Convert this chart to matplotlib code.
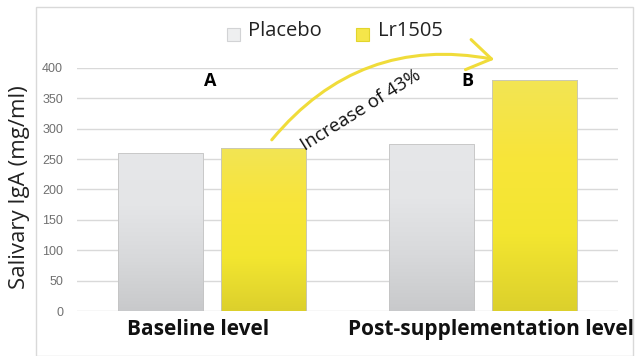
import numpy as np
import matplotlib.pyplot as plt
from matplotlib.patches import Rectangle, FancyArrowPatch
from matplotlib.colors import LinearSegmentedColormap
from matplotlib.transforms import ScaledTranslation

categories = ["Baseline level", "Post-supplementation level"]
series_names = ["Placebo", "Lr1505"]
placebo = [260, 275]
lr1505 = [268, 380]
yticks = [0, 50, 100, 150, 200, 250, 300, 350, 400]

plt.rcParams['font.family'] = ['Open Sans', 'DejaVu Sans']

fig = plt.figure(figsize=(6.38, 3.56), dpi=100)
ax = fig.add_axes([0.1207, 0.1264, 0.8480, 0.6826])

# cadre exterieur
fig.patches.append(Rectangle((36 / 638, 0.0), 597 / 638, 1 - 7 / 356,
                             transform=fig.transFigure, fill=False,
                             edgecolor='#d9d9d9', linewidth=1.0))

gray_cmap = LinearSegmentedColormap.from_list('g', ['#c8c9cb', '#d8d9db', '#e4e5e7', '#e6e7e9'])
yel_cmap = LinearSegmentedColormap.from_list('y', ['#dcd02c', '#f3e630', '#f8e53a', '#f2e454'])

x = np.arange(len(categories))
w = 0.315
off = 0.19


def gradbar(xc, h, cmap):
    r = ax.bar(xc, h, w, color='none', edgecolor='#c4c4c4', linewidth=0.6, zorder=3)[0]
    grad = np.linspace(0, 1, 256).reshape(-1, 1)
    im = ax.imshow(grad, cmap=cmap, origin='lower', aspect='auto',
                   extent=[xc - w / 2, xc + w / 2, 0, h], zorder=2)
    im.set_clip_path(r)


for i in range(len(categories)):
    gradbar(x[i] - off, placebo[i], gray_cmap)
    gradbar(x[i] + off, lr1505[i], yel_cmap)

ax.set_xlim(-0.5, 1.5)
ax.set_ylim(0, 400)
ax.set_yticks(yticks)
ax.yaxis.grid(True, color='#d9d9d9', linewidth=1.0, zorder=0)
ax.set_axisbelow(True)
for s in ['top', 'right', 'left', 'bottom']:
    ax.spines[s].set_visible(False)
ax.tick_params(axis='y', length=0, pad=10, labelsize=9, labelcolor='#707070')
ax.tick_params(axis='x', length=0, pad=6)
for t in ax.get_yticklabels():
    t.set_family(['Liberation Sans'])
ax.set_xticks(x)
ax.set_xticklabels(categories, fontsize=15, fontweight='bold', color='#111111')
shifts = [-14, 8]
for t, s in zip(ax.get_xticklabels(), shifts):
    t.set_transform(t.get_transform() + ScaledTranslation(s / 100, 0, fig.dpi_scale_trans))
ax.set_ylabel("Salivary IgA (mg/ml)", fontsize=16, color='#222222')
ax.yaxis.set_label_coords(-0.087, 0.51)

ax.text(-0.008, 378, "A", ha='center', va='center', fontsize=13, fontweight='bold', clip_on=False)
ax.text(0.945, 378, "B", ha='center', va='center', fontsize=13, fontweight='bold', clip_on=False)

# legende
lx = [227, 356]
tx = [248, 378]
cols = [('#d2d3d5', '#eeeff0'), ('#e2d52c', '#f5e64a')]
for i in range(2):
    fig.patches.append(Rectangle((lx[i] / 638, 1 - 41 / 356), 13 / 638, 13 / 356,
                                 transform=fig.transFigure, facecolor=cols[i][1],
                                 edgecolor=cols[i][0], linewidth=0.8))
    fig.text(tx[i] / 638, 1 - 31 / 356, series_names[i], fontsize=14.5, color='#222222',
             ha='left', va='center')

# fleche courbe
arr = FancyArrowPatch((270 / 638, 1 - 142 / 356), (497 / 638, 1 - 60 / 356),
                      transform=fig.transFigure, connectionstyle='arc3,rad=-0.3',
                      arrowstyle='->,head_length=17,head_width=11', color='#f0dc3a',
                      linewidth=2.2, mutation_scale=1)
fig.patches.append(arr)
fig.text(361 / 638, 1 - 110 / 356, "Increase of 43%", fontsize=13.5, rotation=32,
         ha='center', va='center', color='#111111')

fig.savefig('out.png', dpi=100)
